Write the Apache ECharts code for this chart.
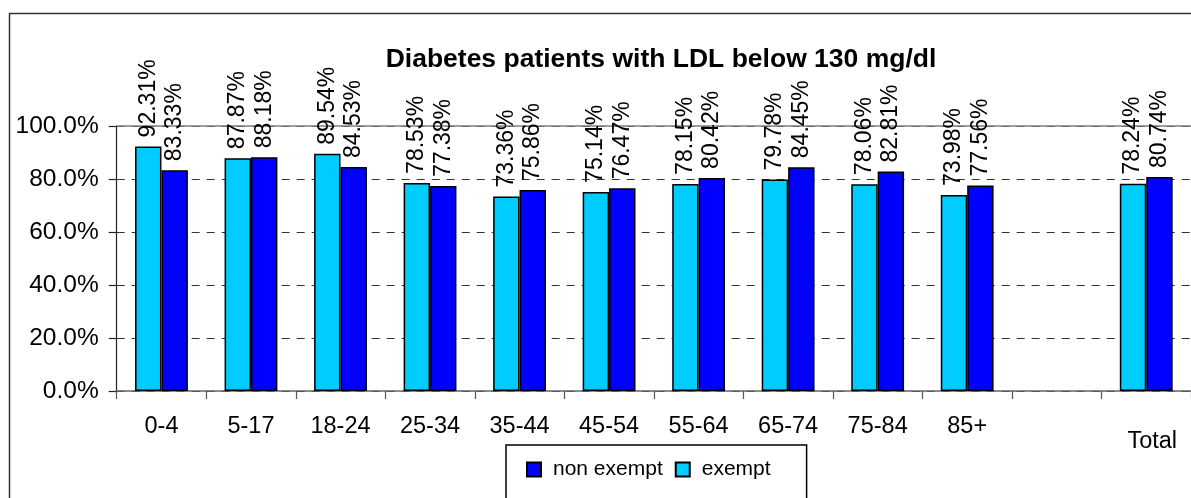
<!DOCTYPE html>
<html>
<head>
<meta charset="utf-8">
<style>
  html, body { margin: 0; padding: 0; background: #ffffff; }
  #chart { width: 1191px; height: 498px; }
</style>
<script src="https://cdn.jsdelivr.net/npm/echarts@6/dist/echarts.min.js"></script>
</head>
<body>
<div id="chart"></div>
<script>
// Age groups; the blank slot keeps a gap before the total column
const categories = ['0-4', '5-17', '18-24', '25-34', '35-44', '45-54', '55-64', '65-74', '75-84', '85+', '', 'Total'];
// Share of diabetes patients with LDL below 130 mg/dl, in percent
const exempt    = [92.31, 87.87, 89.54, 78.53, 73.36, 75.14, 78.15, 79.78, 78.06, 73.98, null, 78.24];
const nonExempt = [83.33, 88.18, 84.53, 77.38, 75.86, 76.47, 80.42, 84.45, 82.81, 77.56, null, 80.74];
const yTicks = { min: 0, max: 100, interval: 20 };

const FONT = 'Liberation Sans, Arial, sans-serif';

const valueLabel = {
  show: true,
  position: 'top',
  rotate: 90,
  align: 'left',
  verticalAlign: 'middle',
  distance: 9,
  fontFamily: FONT,
  fontSize: 23,
  color: '#000',
  formatter: p => p.value == null ? '' : p.value.toFixed(2) + '%'
};

const chart = echarts.init(document.getElementById('chart'), null, { renderer: 'canvas' });
chart.setOption({
  animation: false,
  backgroundColor: '#ffffff',
  title: {
    text: 'Diabetes patients with LDL below 130 mg/dl',
    left: 656,
    textAlign: 'center',
    top: 41,
    textStyle: { fontFamily: FONT, fontSize: 26.5, fontWeight: 'bold', color: '#000' }
  },
  graphic: [{
    type: 'rect',
    z: -1,
    shape: { x: 9.5, y: 13.5, width: 1300, height: 600 },
    style: { fill: 'none', stroke: '#333', lineWidth: 1.5 }
  }],
  legend: {
    data: ['non exempt', 'exempt'],
    left: 506,
    top: 445,
    orient: 'horizontal',
    icon: 'rect',
    itemWidth: 14,
    itemHeight: 14,
    itemGap: 12,
    padding: [14, 36, 40, 20],
    borderColor: '#000',
    borderWidth: 1.5,
    borderRadius: 0,
    textStyle: { fontFamily: FONT, fontSize: 21, color: '#000', padding: [0, 0, 0, 7] }
  },
  grid: { left: 116.7, top: 126, width: 1088, height: 265 },
  xAxis: [{
    type: 'category',
    data: categories,
    axisLine: { lineStyle: { color: '#666', width: 1.5 } },
    axisTick: { show: true, length: 8, lineStyle: { color: '#555', width: 1.2 } },
    axisLabel: {
      interval: 0,
      margin: 24,
      fontFamily: FONT,
      fontSize: 23.5,
      color: '#000',
      formatter: v => v === 'Total' ? '{t|Total}' : v,
      rich: { t: { fontFamily: FONT, fontSize: 23.5, color: '#000', padding: [15, 0, 0, 12] } }
    },
    splitLine: { show: false }
  }, {
    type: 'category',
    position: 'top',
    data: categories,
    axisLine: { show: true, lineStyle: { color: '#808080', width: 1.5 } },
    axisTick: { show: false },
    axisLabel: { show: false }
  }],
  yAxis: {
    type: 'value',
    min: yTicks.min,
    max: yTicks.max,
    interval: yTicks.interval,
    axisLine: { show: true, lineStyle: { color: '#222', width: 1.2 } },
    axisTick: { show: true, length: 8, lineStyle: { color: '#222', width: 1.2 } },
    axisLabel: {
      margin: 18,
      fontFamily: FONT,
      fontSize: 24.5,
      color: '#000',
      formatter: v => v.toFixed(1) + '%'
    },
    splitLine: { show: true, lineStyle: { color: '#333', type: [8, 7], width: 1 } }
  },
  series: [{
    name: 'exempt',
    type: 'bar',
    data: exempt,
    barGap: '0%',
    barCategoryGap: '41%',
    itemStyle: { color: '#00CCFF', borderColor: '#000', borderWidth: 1.5 },
    label: valueLabel
  }, {
    name: 'non exempt',
    type: 'bar',
    data: nonExempt,
    barGap: '0%',
    barCategoryGap: '41%',
    itemStyle: { color: '#0000FF', borderColor: '#000', borderWidth: 1.5 },
    label: valueLabel
  }]
});
</script>
</body>
</html>
